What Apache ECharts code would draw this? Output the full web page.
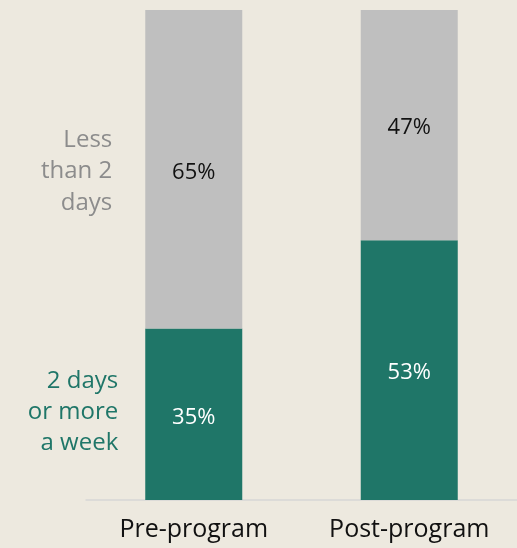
<!DOCTYPE html>
<html>
<head>
<meta charset="utf-8">
<script src="https://cdn.jsdelivr.net/npm/echarts@6/dist/echarts.min.js"></script>
<style>
  html, body { margin: 0; padding: 0; background: #EDE9DF; }
  #chart { width: 517px; height: 548px; }
</style>
</head>
<body>
<div id="chart"></div>
<script>
// Share of respondents by activity frequency, before and after the program
const categories = ['Pre-program', 'Post-program'];
const twoDaysOrMore = [35, 53];
const lessThanTwo = [65, 47];
const seriesNames = ['2 days\nor more\na week', 'Less\nthan 2\ndays'];

const FONT = '"Open Sans", "Noto Sans", sans-serif';
const GREEN = '#1F7668';
const GREY = '#BFBFBF';

const chart = echarts.init(document.getElementById('chart'), null, { renderer: 'canvas' });

const option = {
  backgroundColor: '#EDE9DF',
  animation: false,
  grid: { left: 86, right: -4, top: 10, bottom: 48, containLabel: false },
  xAxis: {
    type: 'category',
    data: categories,
    axisLine: { lineStyle: { color: '#D6D6D6', width: 1.5 } },
    axisTick: { show: false },
    axisLabel: { color: '#111111', fontFamily: FONT, fontSize: 25, margin: 17 }
  },
  yAxis: { type: 'value', min: 0, max: 100, show: false },
  series: [
    {
      name: seriesNames[0],
      type: 'bar',
      stack: 'total',
      barWidth: 97,
      data: twoDaysOrMore,
      itemStyle: { color: GREEN },
      label: {
        show: true, position: 'inside', formatter: '{c}%', offset: [0, 3],
        color: '#FFFFFF', fontFamily: FONT, fontSize: 22
      }
    },
    {
      name: seriesNames[1],
      type: 'bar',
      stack: 'total',
      barWidth: 97,
      data: lessThanTwo,
      itemStyle: { color: GREY },
      label: {
        show: true, position: 'inside', formatter: '{c}%', offset: [0, 3],
        color: '#111111', fontFamily: FONT, fontSize: 22
      }
    }
  ]
};
chart.setOption(option);

// Series names written beside the first column, centred on each segment
function segmentCentre(bottom, top) {
  return chart.convertToPixel({ gridIndex: 0 }, [0, (bottom + top) / 2]);
}
const greenMid = segmentCentre(0, twoDaysOrMore[0]);
const greyMid = segmentCentre(twoDaysOrMore[0], twoDaysOrMore[0] + lessThanTwo[0]);
const barLeft = greenMid[0] - 97 / 2;

chart.setOption({
  graphic: [
    {
      type: 'text', x: barLeft - 27, y: greenMid[1] - 2,
      style: {
        text: seriesNames[0], fill: GREEN, font: '24px ' + FONT,
        textAlign: 'right', textVerticalAlign: 'middle', lineHeight: 31
      }
    },
    {
      type: 'text', x: barLeft - 33, y: greyMid[1] + 2,
      style: {
        text: seriesNames[1], fill: '#8C8C8C', font: '24px ' + FONT,
        textAlign: 'right', textVerticalAlign: 'middle', lineHeight: 31.5
      }
    }
  ]
});
</script>
</body>
</html>
